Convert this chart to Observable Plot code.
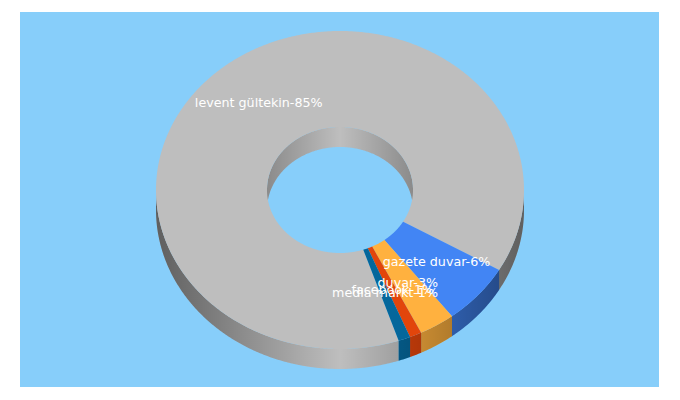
<!DOCTYPE html>
<html>
<head>
<meta charset="utf-8">
<script src="https://cdn.jsdelivr.net/npm/d3@7"></script>
<script src="https://cdn.jsdelivr.net/npm/@observablehq/plot@0.6"></script>
<style>html,body{margin:0;padding:0;background:#fff}svg{display:block}</style>
</head>
<body>
<div id="chart"></div>
<script>
const categories = ["levent gültekin", "gazete duvar", "duvar", "facebook", "media markt"];
const shownPercents = [85, 6, 3, 1, 1];
const shares = [88.55, 6.2, 3.15, 1.05, 1.05];
const colors = ["#bebebe", "#4285f4", "#ffb13f", "#e2450b", "#05679b"];
const startAngle = 71.4;
const backgroundColor = "#87cefa";

const cx = 340, cy = 190, rx = 184, ry = 159, hrx = 73, hry = 63, depth = 20, labelR = 0.6985;
const rad = a => a * Math.PI / 180;
const pt = (a, rxx, ryy, dy = 0) => [cx + rxx * Math.cos(rad(a)), cy + ryy * Math.sin(rad(a)) + dy];
const STEP = 0.5;

let acc = startAngle;
const slices = categories.map((name, i) => {
  const a0 = acc, a1 = acc + shares[i] * 3.6;
  acc = a1;
  return {name, i, a0, a1, color: colors[i], label: `${name}-${shownPercents[i]}%`};
});

const arc = (a0, a1, rxx, ryy, dy = 0) => {
  const n = Math.max(1, Math.ceil(Math.abs(a1 - a0) / STEP)), out = [];
  for (let k = 0; k <= n; k++) out.push(pt(a0 + (a1 - a0) * k / n, rxx, ryy, dy));
  return out;
};
const toRows = (id, color, corners) => corners.map(p => ({id, color, x: p[0], y: p[1]}));
const band = (id, color, a0, a1, rxx, ryy) =>
  toRows(id, color, [...arc(a0, a1, rxx, ryy), ...arc(a1, a0, rxx, ryy, depth)]);

// outer wall: only the parts facing the viewer (0..180 and 360..540 degrees)
const wallRows = [];
slices.forEach(s => {
  [[0, 180], [360, 540]].forEach(([lo, hi], j) => {
    const a = Math.max(s.a0, lo), b = Math.min(s.a1, hi);
    if (b > a) wallRows.push(...band(`w${s.i}-${j}`, s.color, a, b, rx, ry));
  });
});
const wallShadeRows = band("ws", "#000", 0, 180, rx, ry);
const holeRows = band("h", colors[0], 180, 360, hrx, hry);
const holeShadeRows = band("hs", "#000", 180, 360, hrx, hry);

const topRows = slices.flatMap(s =>
  toRows(`t${s.i}`, s.color, [...arc(s.a0, s.a1, rx, ry), ...arc(s.a1, s.a0, hrx, hry)]));

const labelData = slices.map(s => {
  const [x, y] = pt((s.a0 + s.a1) / 2, rx * labelR, ry * labelR);
  return {x, y, label: s.label};
});

const closed = {x: "x", y: "y", z: "id", curve: "linear-closed"};
const chart = Plot.plot({
  width: 680, height: 400,
  marginLeft: 19.5, marginRight: 21.5, marginTop: 11.5, marginBottom: 13.5,
  x: {domain: [20, 659], axis: null},
  y: {domain: [12, 387], reverse: true, axis: null},
  style: {background: "#fff"},
  marks: [
    Plot.frame({fill: backgroundColor, stroke: "none"}),
    Plot.line(wallRows, {...closed, fill: "color", stroke: "none"}),
    Plot.line(wallShadeRows, {...closed, fill: "url(#wallShade)", stroke: "none"}),
    Plot.line(holeRows, {...closed, fill: "color", stroke: "none"}),
    Plot.line(holeShadeRows, {...closed, fill: "url(#holeShade)", stroke: "none"}),
    Plot.line(topRows, {...closed, fill: "color", stroke: "none"}),
    Plot.text(labelData, {x: "x", y: "y", dy: -1, text: "label", fill: "#fff", fontSize: 12.7, fontFamily: "DejaVu Sans"})
  ]
});

const defs = d3.select(chart).insert("defs", ":first-child");
[["wallShade", 0.5], ["holeShade", 0.27]].forEach(([id, edge]) => {
  const g = defs.append("linearGradient").attr("id", id);
  [[0, edge], [0.5, 0], [1, edge]].forEach(([o, a]) =>
    g.append("stop").attr("offset", o).attr("stop-color", "#000").attr("stop-opacity", a));
});
document.getElementById("chart").append(chart);
</script>
</body>
</html>
